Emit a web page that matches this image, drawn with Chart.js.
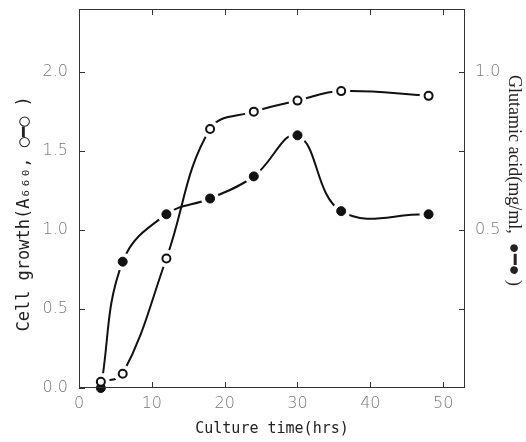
<!DOCTYPE html>
<html>
<head>
<meta charset="utf-8">
<script src="https://cdn.jsdelivr.net/npm/chart.js@4/dist/chart.umd.min.js"></script>
<style>
  html, body { margin: 0; padding: 0; background: #fff; }
  #wrap { width: 526px; height: 442px; }
</style>
</head>
<body>
<div id="wrap"><canvas id="chart"></canvas></div>
<script>
// values
const hours = [3, 6, 12, 18, 24, 30, 36, 48]
const cellGrowth = [0.04, 0.09, 0.82, 1.64, 1.75, 1.82, 1.88, 1.85]
const glutamicAcid = [0.0, 0.40, 0.55, 0.60, 0.67, 0.80, 0.56, 0.55]
const xTicks = [0, 10, 20, 30, 40, 50]
const leftTicks = [0, 0.5, 1.0, 1.5, 2.0]
const rightTicks = [0.25, 0.5, 0.75, 1.0]
const rightLabelled = [0.5, 1.0]

const points = (ys) => hours.map((h, i) => ({ x: h, y: ys[i] }))

// inward tick marks and the frame round the plot
const frame = {
  id: "frame",
  afterDraw(chart) {
    const { ctx, chartArea: a, scales } = chart
    const len = 6
    ctx.save()
    ctx.strokeStyle = "#333"
    ctx.lineWidth = 1
    ctx.strokeRect(a.left + 0.5, a.top + 0.5, a.right - a.left - 1, a.bottom - a.top - 1)
    ctx.beginPath()
    scales.x.ticks.forEach((t) => {
      const px = Math.round(scales.x.getPixelForValue(t.value)) + 0.5
      ctx.moveTo(px, a.bottom); ctx.lineTo(px, a.bottom - len)
      ctx.moveTo(px, a.top); ctx.lineTo(px, a.top + len)
    })
    scales.y.ticks.forEach((t) => {
      const py = Math.round(scales.y.getPixelForValue(t.value)) + 0.5
      ctx.moveTo(a.left, py); ctx.lineTo(a.left + len, py)
    })
    scales.y2.ticks.forEach((t) => {
      const py = Math.round(scales.y2.getPixelForValue(t.value)) + 0.5
      ctx.moveTo(a.right, py); ctx.lineTo(a.right - len, py)
    })
    ctx.stroke()
    ctx.restore()
  },
}

const lineOpts = {
  showLine: true,
  borderColor: "#111",
  borderWidth: 2,
  pointRadius: 0,
  tension: 0.4,
  clip: false,
}
const haloOpts = {
  showLine: false,
  pointRadius: 9,
  pointBackgroundColor: "#fff",
  pointBorderColor: "#fff",
  pointBorderWidth: 0,
  clip: false,
}
const tickFont = { family: "DejaVu Sans", size: 16, weight: "200" }
const noPad = (s) => { s.paddingTop = 0; s.paddingBottom = 0; s.paddingLeft = 0; s.paddingRight = 0 }

new Chart(document.getElementById("chart"), {
  type: "scatter",
  data: {
    datasets: [
      { ...lineOpts, data: points(cellGrowth), yAxisID: "y", order: 5 },
      { ...lineOpts, data: points(glutamicAcid), yAxisID: "y2", order: 5 },
      { ...haloOpts, data: points(cellGrowth), yAxisID: "y", order: 3 },
      { ...haloOpts, data: points(glutamicAcid), yAxisID: "y2", order: 3 },
      {
        data: points(cellGrowth), yAxisID: "y", order: 1, clip: false,
        pointRadius: 4, pointBackgroundColor: "#fff", pointBorderColor: "#111", pointBorderWidth: 2,
      },
      {
        data: points(glutamicAcid), yAxisID: "y2", order: 1, clip: false,
        pointRadius: 4.5, pointBackgroundColor: "#111", pointBorderColor: "#111", pointBorderWidth: 1,
      },
    ],
  },
  options: {
    animation: false,
    responsive: true,
    maintainAspectRatio: false,
    layout: { padding: { top: 0, right: 0, bottom: 0, left: 0 } },
    plugins: { legend: { display: false }, tooltip: { enabled: false } },
    scales: {
      x: {
        type: "linear",
        min: 0,
        max: 53,
        afterFit: (s) => { s.height = 54; noPad(s) },
        afterBuildTicks: (s) => { s.ticks = xTicks.map((v) => ({ value: v })) },
        grid: { display: false, drawTicks: false },
        border: { display: false },
        ticks: { padding: 6, color: "#777", font: tickFont },
        title: {
          display: true,
          text: "Culture time(hrs)",
          color: "#222",
          padding: { top: 3 },
          font: { family: "DejaVu Sans Mono", size: 15 },
        },
      },
      y: {
        position: "left",
        min: 0,
        max: 2.4,
        afterFit: (s) => { s.width = 79; noPad(s) },
        afterBuildTicks: (s) => { s.ticks = leftTicks.map((v) => ({ value: v })) },
        grid: { display: false, drawTicks: false },
        border: { display: false },
        ticks: {
          padding: 11,
          color: "#777",
          font: tickFont,
          callback: (v) => v.toFixed(1),
        },
        title: {
          display: true,
          text: "Cell growth(A\u2086\u2086\u2080, \u25CB\u2501\u25CB )   ",
          color: "#222",
          padding: { top: 14 },
          font: { family: "DejaVu Sans Mono", size: 17 },
        },
      },
      y2: {
        position: "right",
        min: 0,
        max: 1.2,
        afterFit: (s) => { s.width = 61; noPad(s) },
        afterBuildTicks: (s) => { s.ticks = rightTicks.map((v) => ({ value: v })) },
        grid: { display: false, drawTicks: false },
        border: { display: false },
        ticks: {
          padding: 10,
          color: "#777",
          font: tickFont,
          callback: (v) => (rightLabelled.includes(v) ? v.toFixed(1) : ""),
        },
        title: {
          display: true,
          text: "Glutamic acid(mg/ml,  \u25CF\u2501\u25CF )        ",
          color: "#222",
          padding: { top: 1 },
          font: { family: "Liberation Serif", size: 18 },
        },
      },
    },
  },
  plugins: [frame],
})
</script>
</body>
</html>
